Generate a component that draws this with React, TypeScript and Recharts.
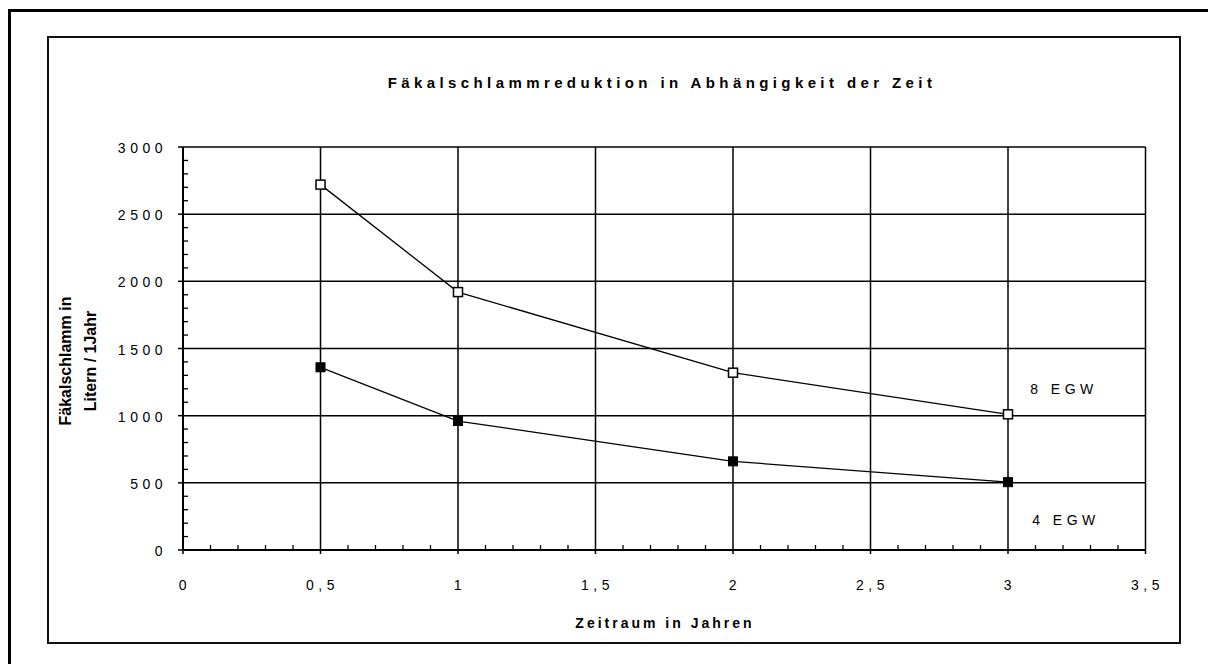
import React from "react";
import { LineChart, Line, XAxis, YAxis, ReferenceLine } from "recharts";

// Zeitraum in Jahren
const years = [0.5, 1, 2, 3];
// Fäkalschlamm in Litern / 1 Jahr
const egw8 = [2720, 1920, 1320, 1010];
const egw4 = [1360, 960, 660, 505];
const seriesNames = ["8 EGW", "4 EGW"];

const xMajor = [0, 0.5, 1, 1.5, 2, 2.5, 3, 3.5];
const xLabels = ["0", "0,5", "1", "1,5", "2", "2,5", "3", "3,5"];
const xTicks = [
  0, 0.1, 0.2, 0.3, 0.4, 0.5, 0.6, 0.7, 0.8, 0.9, 1, 1.1, 1.2, 1.3, 1.4, 1.5, 1.6, 1.7,
  1.8, 1.9, 2, 2.1, 2.2, 2.3, 2.4, 2.5, 2.6, 2.7, 2.8, 2.9, 3, 3.1, 3.2, 3.3, 3.4, 3.5,
];
const yMajor = [0, 500, 1000, 1500, 2000, 2500, 3000];
const yTicks = [
  0, 100, 200, 300, 400, 500, 600, 700, 800, 900, 1000, 1100, 1200, 1300, 1400, 1500,
  1600, 1700, 1800, 1900, 2000, 2100, 2200, 2300, 2400, 2500, 2600, 2700, 2800, 2900, 3000,
];

const data = years.map((x, i) => ({ x, egw8: egw8[i], egw4: egw4[i] }));

const FONT = '"Liberation Sans", Arial, sans-serif';
const tickFont = { fontFamily: FONT, fontSize: 14, letterSpacing: 4.5, fill: "#000" };
const ink = "#000";

function XTick(props: any) {
  const { x, y, payload } = props;
  const i = xMajor.indexOf(payload.value);
  if (i < 0) return <line x1={x} x2={x} y1={y} y2={y - 5} stroke={ink} strokeWidth={1.3} />;
  return (
    <g>
      <line x1={x} x2={x} y1={y} y2={y + 4} stroke={ink} strokeWidth={1.5} />
      <text x={x + 2} y={y + 40} textAnchor="middle" style={tickFont}>
        {xLabels[i]}
      </text>
    </g>
  );
}

function YTick(props: any) {
  const { x, y, payload } = props;
  const v = payload.value;
  if (!yMajor.includes(v)) return <line x1={x} x2={x + 5} y1={y} y2={y} stroke={ink} strokeWidth={1.3} />;
  return (
    <g>
      <line x1={x - 5} x2={x} y1={y} y2={y} stroke={ink} strokeWidth={1.5} />
      <text x={x - 16} y={y + 6} textAnchor="end" style={tickFont}>
        {String(v)}
      </text>
    </g>
  );
}

const OpenSquare = (p: any) => (
  <rect key={p.index} x={p.cx - 4.5} y={p.cy - 4.5} width={9} height={9} fill="#fff" stroke={ink} strokeWidth={1.5} />
);
const FilledSquare = (p: any) => (
  <rect key={p.index} x={p.cx - 4.5} y={p.cy - 4.5} width={9} height={9} fill={ink} stroke={ink} strokeWidth={1} />
);

function endLabel(name: string, dx: number, dy: number) {
  return (p: any) => {
    if (p.index !== years.length - 1) return <g key={p.index} />;
    return (
      <text key={p.index} x={p.x + dx} y={p.y + dy} textAnchor="middle" style={tickFont}>
        {name}
      </text>
    );
  };
}

export default function App() {
  return (
    <div style={{ position: "absolute", left: 0, top: 0, width: 1208, height: 664, background: "#fff", overflow: "hidden" }}>
      <svg width={1208} height={664} style={{ position: "absolute", left: 0, top: 0 }}>
        <rect x={9.5} y={10.5} width={1400} height={1000} fill="none" stroke={ink} strokeWidth={3} />
        <rect x={48} y={37} width={1132} height={606} fill="none" stroke="#111" strokeWidth={2} />
        <text x={662} y={88} textAnchor="middle" style={{ fontFamily: FONT, fontSize: 15, fontWeight: 700, letterSpacing: 4.4 }}>
          Fäkalschlammreduktion in Abhängigkeit der Zeit
        </text>
        <text x={665} y={628} textAnchor="middle" style={{ fontFamily: FONT, fontSize: 14, fontWeight: 700, letterSpacing: 3 }}>
          Zeitraum in Jahren
        </text>
        <g transform="translate(71,361) rotate(-90)" style={{ fontFamily: FONT, fontSize: 16, fontWeight: 700 }}>
          <text x={0} y={0} textAnchor="middle">Fäkalschlamm in</text>
          <text x={0} y={25} textAnchor="middle">Litern / 1Jahr</text>
        </g>
      </svg>
      <div style={{ position: "absolute", left: 0, top: 0 }}>
        <LineChart width={1208} height={664} data={data} margin={{ top: 147, right: 62.5, bottom: 84, left: 123 }}>
          <XAxis
            dataKey="x"
            type="number"
            domain={[0, 3.5]}
            ticks={xTicks}
            interval={0}
            height={30}
            tickSize={0}
            tickMargin={0}
            tickLine={false}
            tick={<XTick />}
            axisLine={{ stroke: ink, strokeWidth: 2 }}
          />
          <YAxis
            type="number"
            domain={[0, 3000]}
            ticks={yTicks}
            interval={0}
            width={60}
            tickSize={0}
            tickMargin={0}
            tickLine={false}
            tick={<YTick />}
            axisLine={{ stroke: ink, strokeWidth: 2 }}
          />
          {yMajor.slice(1).map((v) => (
            <ReferenceLine key={"y" + v} y={v} stroke={ink} strokeWidth={1.5} />
          ))}
          {xMajor.slice(1).map((v) => (
            <ReferenceLine key={"x" + v} x={v} stroke={ink} strokeWidth={1.5} />
          ))}
          <Line
            dataKey="egw8"
            name={seriesNames[0]}
            type="linear"
            stroke={ink}
            strokeWidth={1.3}
            dot={OpenSquare}
            activeDot={false}
            label={endLabel(seriesNames[0], 56, -20)}
            isAnimationActive={false}
          />
          <Line
            dataKey="egw4"
            name={seriesNames[1]}
            type="linear"
            stroke={ink}
            strokeWidth={1.3}
            dot={FilledSquare}
            activeDot={false}
            label={endLabel(seriesNames[1], 58, 43)}
            isAnimationActive={false}
          />
        </LineChart>
      </div>
    </div>
  );
}
